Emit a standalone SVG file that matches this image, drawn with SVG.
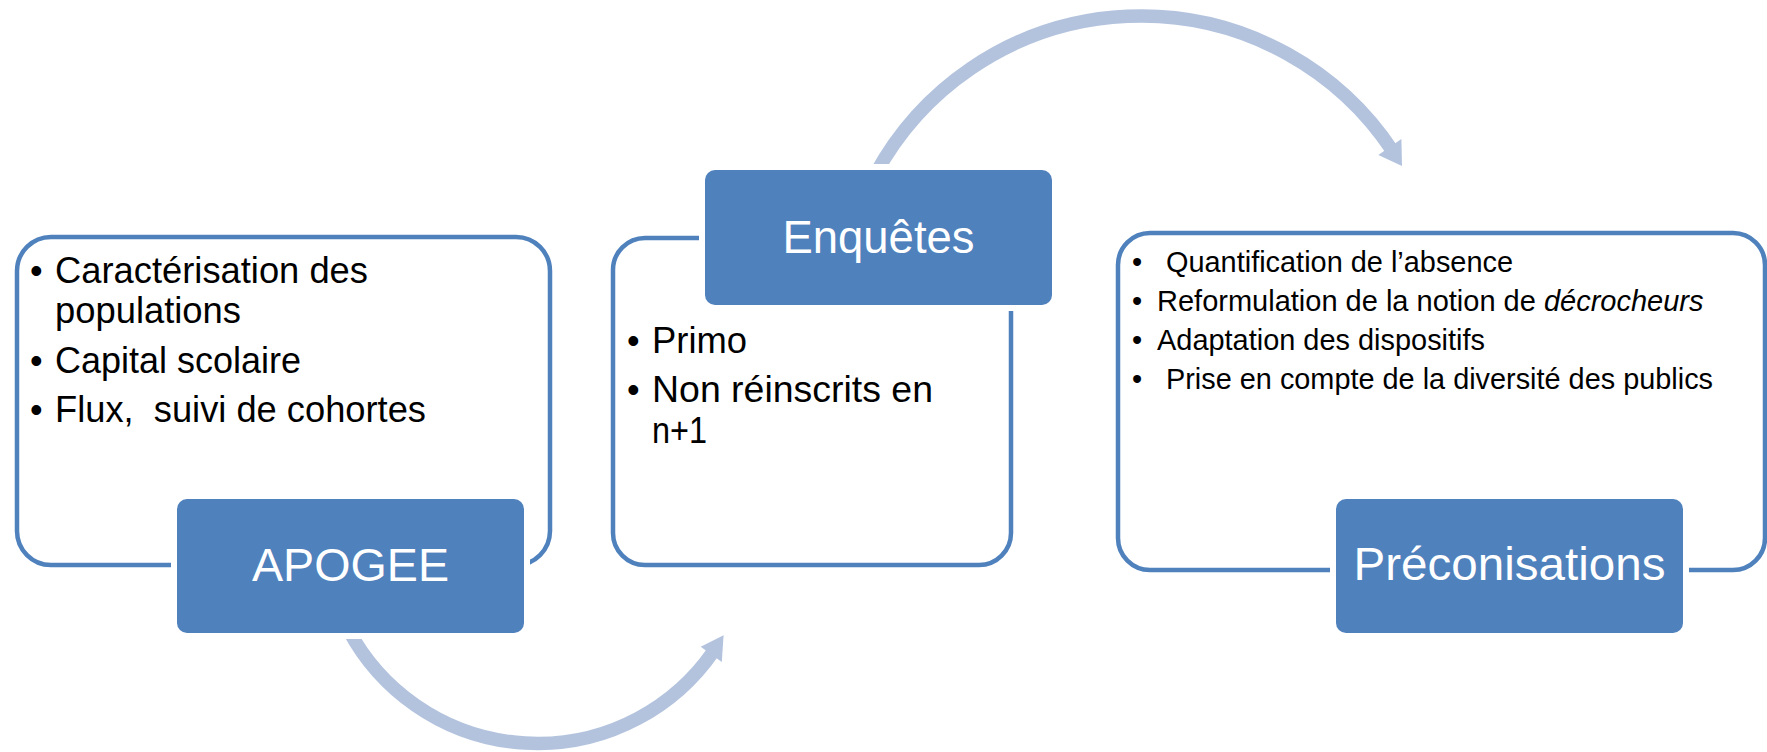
<svg xmlns="http://www.w3.org/2000/svg" width="1767" height="752" viewBox="0 0 1767 752">
  <style>
    .frame { fill:#ffffff; stroke:#4F81BD; stroke-width:4.5; }
    .pad { fill:#ffffff; }
    .head { fill:#4F81BD; }
    .title { font-family:"Liberation Sans", Arial, sans-serif; font-size:47px; fill:#ffffff; text-anchor:middle; }
    .body { font-family:"Liberation Sans", Arial, sans-serif; font-size:36px; fill:#000000; white-space:pre; }
    .small { font-size:29px; }
    .arc { fill:none; stroke:#B3C3DE; stroke-width:13.5; }
    .tip { fill:#B3C3DE; }
  </style>
  <rect x="0" y="0" width="1767" height="752" fill="#ffffff"/>

  <g id="connectors">
    <path class="arc" d="M 348.6 630 A 214 214 0 0 0 713.4 651.3"/>
    <polygon class="tip" points="700.7,646.8 721.8,662 723.6,635.2"/>
    <path class="arc" d="M 875.1 174.8 A 302 302 0 0 1 1392.8 151.3"/>
    <polygon class="tip" points="1378.3,154.9 1401.4,139 1402,166.1"/>
  </g>

  <g id="node-apogee">
    <rect class="frame" x="17" y="237" width="533" height="328" rx="34" ry="34"/>
    <text class="body" x="30" y="283">•</text>
    <text class="body" x="55" y="283" textLength="313" lengthAdjust="spacingAndGlyphs">Caractérisation des</text>
    <text class="body" x="55" y="323" textLength="186" lengthAdjust="spacingAndGlyphs">populations</text>
    <text class="body" x="30" y="373">•</text>
    <text class="body" x="55" y="373" textLength="246" lengthAdjust="spacingAndGlyphs">Capital scolaire</text>
    <text class="body" x="30" y="422">•</text>
    <text class="body" x="55" y="422" textLength="371" lengthAdjust="spacingAndGlyphs">Flux,  suivi de cohortes</text>
    <rect class="pad" x="171" y="493" width="359" height="146" rx="14" ry="14"/>
    <rect class="head" x="177" y="499" width="347" height="134" rx="10" ry="10"/>
    <text class="title" x="350.5" y="581" textLength="197" lengthAdjust="spacingAndGlyphs">APOGEE</text>
  </g>

  <g id="node-enquetes">
    <rect class="frame" x="613" y="238" width="398" height="327" rx="32" ry="32"/>
    <text class="body" x="627" y="353">•</text>
    <text class="body" x="652" y="353" textLength="95" lengthAdjust="spacingAndGlyphs">Primo</text>
    <text class="body" x="627" y="402">•</text>
    <text class="body" x="652" y="402" textLength="281" lengthAdjust="spacingAndGlyphs">Non réinscrits en</text>
    <text class="body" x="652" y="443" textLength="55" lengthAdjust="spacingAndGlyphs">n+1</text>
    <rect class="pad" x="699" y="164" width="359" height="147" rx="14" ry="14"/>
    <rect class="head" x="705" y="170" width="347" height="135" rx="10" ry="10"/>
    <text class="title" x="878.5" y="253" textLength="192" lengthAdjust="spacingAndGlyphs">Enquêtes</text>
  </g>

  <g id="node-preconisations">
    <rect class="frame" x="1118" y="233" width="647" height="337" rx="32" ry="32"/>
    <text class="body small" x="1132" y="272">•</text>
    <text class="body small" x="1166" y="272" textLength="347" lengthAdjust="spacingAndGlyphs">Quantification de l’absence</text>
    <text class="body small" x="1132" y="311">•</text>
    <text class="body small" x="1157" y="311">Reformulation de la notion de <tspan font-style="italic">décrocheurs</tspan></text>
    <text class="body small" x="1132" y="350">•</text>
    <text class="body small" x="1157" y="350" textLength="328" lengthAdjust="spacingAndGlyphs">Adaptation des dispositifs</text>
    <text class="body small" x="1132" y="389">•</text>
    <text class="body small" x="1166" y="389" textLength="547" lengthAdjust="spacingAndGlyphs">Prise en compte de la diversité des publics</text>
    <rect class="pad" x="1330" y="493" width="359" height="146" rx="14" ry="14"/>
    <rect class="head" x="1336" y="499" width="347" height="134" rx="10" ry="10"/>
    <text class="title" x="1509.5" y="580" textLength="312" lengthAdjust="spacingAndGlyphs">Préconisations</text>
  </g>
</svg>
